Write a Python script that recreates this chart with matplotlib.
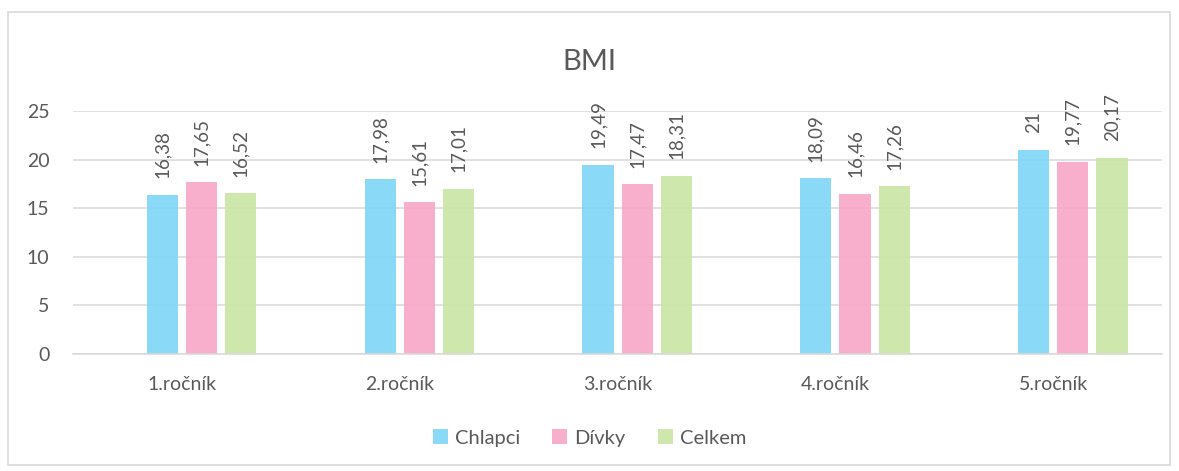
import matplotlib.pyplot as plt
from matplotlib.patches import Rectangle
import numpy as np

plt.rcParams['font.family'] = ['Lato', 'DejaVu Sans']

# BMI averages per school year
categories = ['1.ročník', '2.ročník', '3.ročník', '4.ročník', '5.ročník']
chlapci = [16.38, 17.98, 19.49, 18.09, 21]
divky = [17.65, 15.61, 17.47, 16.46, 19.77]
celkem = [16.52, 17.01, 18.31, 17.26, 20.17]
series_names = ['Chlapci', 'Dívky', 'Celkem']
colors = ['#7fd6f7', '#f7a8c8', '#c9e5a5']
text_color = '#595959'

fig = plt.figure(figsize=(11.79, 4.71), dpi=100)
ax = fig.add_axes([0.062, 0.2484, 0.9236, 0.5159])

# outer chart border
fig.patches.append(Rectangle((8 / 1179, 6 / 471), 1162 / 1179, 453 / 471,
                             transform=fig.transFigure, fill=False,
                             edgecolor='#d9d9d9', linewidth=1.2))

x = np.arange(len(categories))
slot = 0.18
width = 0.143
offsets = [-0.5 * slot, 0.5 * slot, 1.5 * slot]

for vals, name, col, off in zip([chlapci, divky, celkem], series_names, colors, offsets):
    bars = ax.bar(x + off, vals, width, color=col, label=name, alpha=0.92, zorder=2)
    for b, v in zip(bars, vals):
        lbl = f"{v:g}".replace('.', ',')
        ax.annotate(lbl, (b.get_x() + b.get_width() / 2, v), xytext=(0, 12),
                    textcoords='offset points', rotation=90, ha='center', va='bottom',
                    fontsize=13.5, color=text_color)

ax.set_xlim(-0.5, len(categories) - 0.5)
ax.set_ylim(0, 25)
ax.set_yticks([0, 5, 10, 15, 20, 25])
ax.set_xticks(x)
ax.set_xticklabels(categories)
ax.yaxis.grid(True, color='#d9d9d9', linewidth=1.1, zorder=1)
ax.set_axisbelow(True)
for s in ['top', 'right', 'left']:
    ax.spines[s].set_visible(False)
ax.spines['bottom'].set_color('#d9d9d9')
ax.spines['bottom'].set_linewidth(1.1)
ax.tick_params(axis='both', length=0, labelsize=14, colors=text_color)
ax.tick_params(axis='x', pad=16)
ax.tick_params(axis='y', pad=17)

fig.text(0.5, 0.868, 'BMI', ha='center', va='center', fontsize=21, color=text_color)

fig.legend(loc='center', bbox_to_anchor=(0.5, 0.07), ncol=3, frameon=False,
           fontsize=14.5, handlelength=0.75, handleheight=0.75, handletextpad=0.35,
           columnspacing=1.6, labelcolor=text_color)

fig.savefig('out.png', dpi=100)
